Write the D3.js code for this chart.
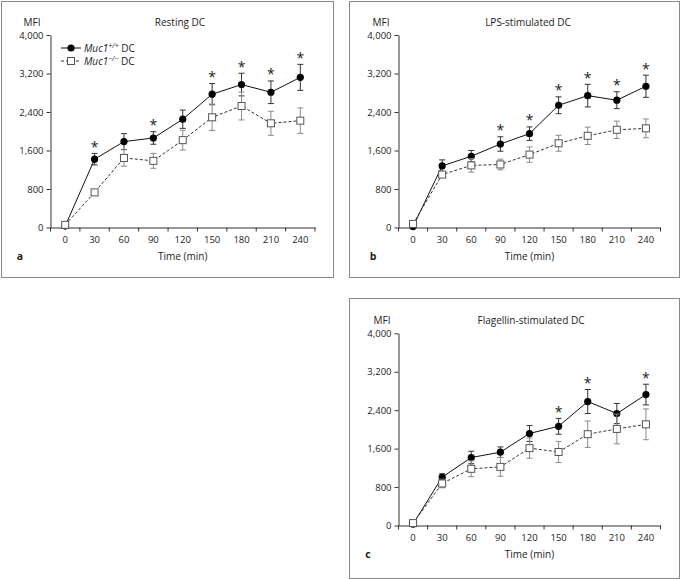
<!DOCTYPE html>
<html><head><meta charset="utf-8">
<script src="https://cdn.jsdelivr.net/npm/d3@7/dist/d3.min.js"></script>
<style>
body{margin:0;background:#fff;}
svg text{font-family:"Open Sans","Noto Sans",sans-serif;fill:#222;}
</style></head>
<body><svg id="c" width="680" height="579"></svg>
<script>
const times = ["0","30","60","90","120","150","180","210","240"];
const yTicks = [0,800,1600,2400,3200,4000];

const restingWT    = [30,1420,1785,1860,2250,2770,2970,2810,3120];
const restingWTErr = [0,120,165,130,190,220,235,235,270];
const restingKO    = [55,730,1445,1385,1815,2290,2525,2165,2220];
const restingKOErr = [0,40,170,155,205,275,290,250,265];
const restingSig   = ["30","90","150","180","210","240"];

const lpsWT    = [20,1280,1480,1735,1950,2540,2740,2645,2935];
const lpsWTErr = [0,125,120,150,140,175,235,175,230];
const lpsKO    = [75,1100,1290,1310,1515,1750,1905,2030,2060];
const lpsKOErr = [0,60,140,110,160,165,180,180,195];
const lpsSig   = ["90","120","150","180","210","240"];

const flaWT    = [30,1005,1415,1525,1915,2065,2580,2330,2725];
const flaWTErr = [0,70,130,110,165,165,250,210,215];
const flaKO    = [50,875,1180,1220,1610,1530,1900,2010,2105];
const flaKOErr = [0,90,165,195,210,220,275,310,320];
const flaSig   = ["150","180","240"];

const panels = [
  {title:"Resting DC", letter:"a", wt:restingWT, wtErr:restingWTErr, ko:restingKO, koErr:restingKOErr, sig:restingSig,
   frame:[1.5,1.5,332,276], xr:[50.5,315], yr:[227.5,35], titleX:180, titleY:26, mfiX:32, letterX:20, xlabY:260, legend:true},
  {title:"LPS-stimulated DC", letter:"b", wt:lpsWT, wtErr:lpsWTErr, ko:lpsKO, koErr:lpsKOErr, sig:lpsSig,
   frame:[349.5,1.5,330,276], xr:[398.5,660.5], yr:[227.5,35], titleX:528, titleY:26, mfiX:381, letterX:373, xlabY:260, legend:false},
  {title:"Flagellin-stimulated DC", letter:"c", wt:flaWT, wtErr:flaWTErr, ko:flaKO, koErr:flaKOErr, sig:flaSig,
   frame:[349.5,298.5,330,280], xr:[398.5,660.5], yr:[525.5,333.3], titleX:531, titleY:324, mfiX:382, letterX:368, xlabY:558, legend:false}
];

const svg = d3.select("#c");

panels.forEach(p => {
  const g = svg.append("g");
  g.append("rect").attr("x",p.frame[0]).attr("y",p.frame[1]).attr("width",p.frame[2]).attr("height",p.frame[3])
    .attr("fill","none").attr("stroke","#8a8a8a").attr("stroke-width",1);

  const x = d3.scaleBand().domain(times).range(p.xr);
  const y = d3.scaleLinear().domain([0,4000]).range(p.yr);
  const cx = t => x(t) + x.bandwidth()/2;

  const ya = g.append("g").attr("transform",`translate(${p.xr[0]},0)`)
    .call(d3.axisLeft(y).tickValues(yTicks).tickSize(4).tickPadding(3).tickSizeOuter(0).tickFormat(d3.format(",")));
  ya.select(".domain").attr("stroke","#333");
  ya.selectAll(".tick line").attr("stroke","#333");
  ya.selectAll("text").style("font-size","9.5px").attr("fill","#222");

  const xa = g.append("g").attr("transform",`translate(0,${p.yr[0]})`)
    .call(d3.axisBottom(x).tickSize(0).tickPadding(9).tickSizeOuter(0));
  xa.select(".domain").attr("stroke","#333");
  xa.selectAll("text").style("font-size","9.5px").attr("fill","#222");
  const bounds = times.map(t => x(t)).concat([p.xr[1]]);
  g.append("g").selectAll("line").data(bounds).join("line")
    .attr("x1",d=>d).attr("x2",d=>d).attr("y1",p.yr[0]).attr("y2",p.yr[0]+4).attr("stroke","#333");

  g.append("text").attr("x",p.titleX).attr("y",p.titleY).attr("text-anchor","middle").style("font-size","10px").text(p.title);
  g.append("text").attr("x",p.mfiX).attr("y",p.titleY).attr("text-anchor","middle").style("font-size","10px").text("MFI");
  g.append("text").attr("x",(p.xr[0]+p.xr[1])/2).attr("y",p.xlabY).attr("text-anchor","middle").style("font-size","10px").text("Time (min)");
  g.append("text").attr("x",p.letterX).attr("y",p.xlabY).attr("text-anchor","middle").style("font-size","10.5px").style("font-weight","bold").text(p.letter);

  const line = d3.line().x((d,i)=>cx(times[i])).y(d=>y(d));

  const koG = g.append("g");
  times.forEach((t,i) => {
    if (p.koErr[i] > 0) {
      const x0 = cx(t), y1 = y(p.ko[i]+p.koErr[i]), y2 = y(p.ko[i]-p.koErr[i]);
      koG.append("line").attr("x1",x0).attr("x2",x0).attr("y1",y1).attr("y2",y2).attr("stroke","#8a8a8a");
      koG.append("line").attr("x1",x0-3).attr("x2",x0+3).attr("y1",y1).attr("y2",y1).attr("stroke","#8a8a8a");
      koG.append("line").attr("x1",x0-3).attr("x2",x0+3).attr("y1",y2).attr("y2",y2).attr("stroke","#8a8a8a");
    }
  });
  koG.append("path").datum(p.ko).attr("d",line).attr("fill","none").attr("stroke","#333").attr("stroke-dasharray","3,2");

  const wtG = g.append("g");
  times.forEach((t,i) => {
    if (p.wtErr[i] > 0) {
      const x0 = cx(t), y1 = y(p.wt[i]+p.wtErr[i]), y2 = y(p.wt[i]-p.wtErr[i]);
      wtG.append("line").attr("x1",x0).attr("x2",x0).attr("y1",y1).attr("y2",y2).attr("stroke","#333");
      wtG.append("line").attr("x1",x0-3).attr("x2",x0+3).attr("y1",y1).attr("y2",y1).attr("stroke","#333");
      wtG.append("line").attr("x1",x0-3).attr("x2",x0+3).attr("y1",y2).attr("y2",y2).attr("stroke","#333");
    }
  });
  wtG.append("path").datum(p.wt).attr("d",line).attr("fill","none").attr("stroke","#111");
  wtG.selectAll("circle").data(p.wt).join("circle")
    .attr("cx",(d,i)=>cx(times[i])).attr("cy",d=>y(d)).attr("r",3.6).attr("fill","#000");

  koG.raise();
  koG.selectAll("rect").data(p.ko).join("rect")
    .attr("x",(d,i)=>cx(times[i])-3.5).attr("y",d=>y(d)-3.5).attr("width",7).attr("height",7)
    .attr("fill","#fff").attr("stroke","#555");
  wtG.selectAll("circle").raise();

  p.sig.forEach(t => {
    const i = times.indexOf(t);
    g.append("text").attr("x",cx(t)).attr("y",y(p.wt[i]+p.wtErr[i])-1.5).attr("text-anchor","middle")
      .style("font-size","14px").attr("fill","#111").text("*");
  });

  if (p.legend) {
    const lg = g.append("g");
    const rows = [{sup:"+/+", dash:null},{sup:"\u2212/\u2212", dash:"3,2"}];
    rows.forEach((r,k) => {
      const yy = 48 + k*13;
      lg.append("line").attr("x1",61).attr("x2",81).attr("y1",yy).attr("y2",yy)
        .attr("stroke", k===0 ? "#111" : "#333").attr("stroke-dasharray", r.dash);
      if (k===0) lg.append("circle").attr("cx",71).attr("cy",yy).attr("r",3.6).attr("fill","#000");
      else lg.append("rect").attr("x",67.5).attr("y",yy-3.5).attr("width",7).attr("height",7).attr("fill","#fff").attr("stroke","#555");
      const tx = lg.append("text").attr("x",84).attr("y",yy+3.5).style("font-size","10px");
      tx.append("tspan").style("font-style","italic").text("Muc1");
      tx.append("tspan").attr("dy",-3.5).style("font-size","7px").style("font-style","italic").text(r.sup);
      tx.append("tspan").attr("dy",3.5).text(" DC");
    });
  }
});
</script></body></html>
